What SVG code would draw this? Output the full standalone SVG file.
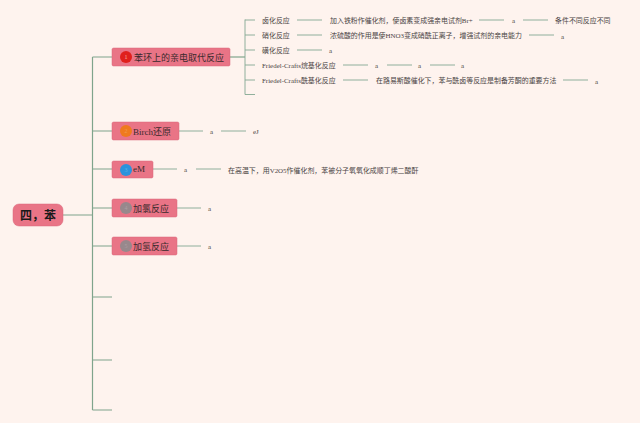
<svg xmlns="http://www.w3.org/2000/svg" width="640" height="423" viewBox="0 0 640 423">
<style>
text{font-family:"Liberation Serif","Noto Sans CJK SC",serif;fill:#4a4444;font-size:6.95px}
.n{font-size:9px;fill:#3a2a2c}
.r{font-size:12px;font-weight:bold;fill:#1a1a1a;font-family:"Noto Sans CJK SC",sans-serif}
.d{font-size:6px;text-anchor:middle}
.b{fill:#e97486;stroke:#d9677a;stroke-width:.5}
.c{fill:none;stroke:#84a892;stroke-width:.9}
.m{fill:none;stroke:#7fa48c;stroke-width:1.2}
</style>
<rect width="640" height="423" fill="#fef3ee"/>
<g id="connectors">
<path class="m" d="M63 215H92.500M92.500 57V410M92.500 57H112M92.500 131H112M92.500 169H112M92.500 208H112M92.500 246H112M92.500 297H112M92.500 360H112M92.500 410H112"/>
<path class="m" d="M230 57H245"/>
<path class="c" d="M245 19.500V94.500M245 20H255M245 35H255M245 50H255M245 65H255M245 80H255M245 94.500H255"/>
<path class="c" d="M297 20H322M297 35H322M297 50H322M343 65H368M343 80H368M387 65H412M430 65H455M479 20H504M523 20H548M529 35H554M563 80H588"/>
<path class="c" d="M179 131H203M221 131H246M153 169H177M196 169H221M177 208H201M177 246H201"/>
</g>
<g id="root"><rect class="b" x="13" y="204" width="50" height="22" rx="6"/><text class="r" x="38" y="220" text-anchor="middle">四，苯</text></g>
<g id="node1"><rect class="b" x="112" y="48" width="118" height="18" rx="1.500"/><circle cx="126" cy="57" r="6" fill="#e0201c"/><text class="d" x="126" y="59" style="fill:#f6b0a0">1</text><text class="n" x="134" y="60.500">苯环上的亲电取代反应</text></g>
<g id="node2"><rect class="b" x="112" y="122" width="67" height="18" rx="1.500"/><circle cx="126" cy="131" r="6" fill="#ef7a1e"/><text class="d" x="126" y="133" style="fill:#f09a50">2</text><text class="n" x="133" y="135">Birch还原</text></g>
<g id="node3"><rect class="b" x="112" y="161" width="41" height="17" rx="1.500"/><circle cx="126" cy="170" r="6" fill="#2b93dc"/><text class="d" x="126" y="172" style="fill:#5fb0e6">3</text><text class="n" x="133" y="172">eM</text></g>
<g id="node4"><rect class="b" x="112" y="199" width="65" height="18" rx="1.500"/><circle cx="126" cy="208" r="6" fill="#98888c"/><text class="d" x="126" y="210" style="fill:#ad9ea2">4</text><text class="n" x="133" y="212">加氯反应</text></g>
<g id="node5"><rect class="b" x="112" y="237" width="65" height="18" rx="1.500"/><circle cx="126" cy="246" r="6" fill="#98888c"/><text class="d" x="126" y="248" style="fill:#ad9ea2">5</text><text class="n" x="133" y="250">加氢反应</text></g>
<g id="details">
<text x="262" y="23">卤化反应</text>
<text x="330" y="23">加入铁粉作催化剂，使卤素变成强亲电试剂Br+</text>
<text x="512" y="23">a</text>
<text x="555" y="23">条件不同反应不同</text>
<text x="262" y="38">硝化反应</text>
<text x="330" y="38">浓硫酸的作用是使HNO3变成硝酰正离子，增强试剂的亲电能力</text>
<text x="561" y="39">a</text>
<text x="262" y="53">磺化反应</text>
<text x="329" y="53">a</text>
<text x="262" y="68">Friedel-Crafts烷基化反应</text>
<text x="375" y="68">a</text>
<text x="418" y="68">a</text>
<text x="461" y="68">a</text>
<text x="262" y="83">Friedel-Crafts酰基化反应</text>
<text x="376" y="83">在路易斯酸催化下，苯与酰卤等反应是制备芳酮的重要方法</text>
<text x="595" y="84">a</text>
<text x="210" y="134">a</text>
<text x="253" y="134">eJ</text>
<text x="184" y="172">a</text>
<text x="228" y="173">在高温下，用V2O5作催化剂，苯被分子氧氧化成顺丁烯二酸酐</text>
<text x="208" y="211">a</text>
<text x="208" y="249">a</text>
</g>
</svg>
